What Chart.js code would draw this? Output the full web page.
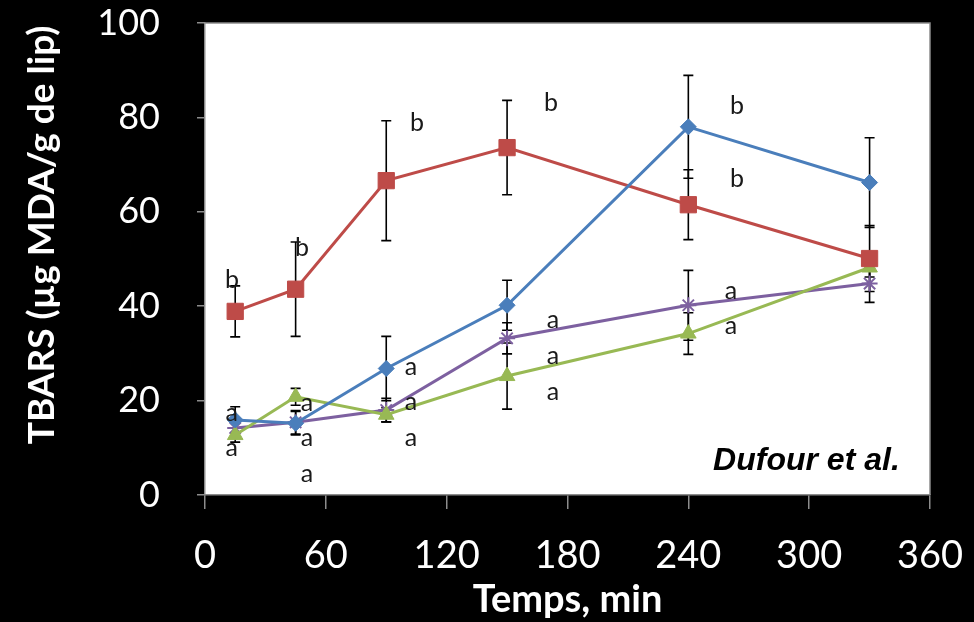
<!DOCTYPE html>
<html lang="fr">
<head>
  <meta charset="UTF-8" />
  <title>TBARS - Dufour et al.</title>
  <script src="https://cdn.jsdelivr.net/npm/chart.js"></script>
  <style>
    html, body { margin: 0; padding: 0; background: #000; }
    #wrap { width: 974px; height: 622px; }
  </style>
</head>
<body>
  <div id="wrap"><canvas id="tbarsChart" width="974" height="622"></canvas></div>

  <script>
    // Sampling times (min)
    const times = [15, 45, 90, 150, 240, 330];

    // TBARS means and error bars, one pair per series
    const blueVals = [15.9, 15.2, 26.8, 40.2, 78.0, 66.2];
    const blueErr = [2.8, 2.5, 6.8, 5.3, 10.9, 9.5];
    const redVals = [38.9, 43.6, 66.6, 73.6, 61.5, 50.1];
    const redErr = [5.4, 10.0, 12.7, 10.0, 7.4, 7.0];
    const greenVals = [12.7, 20.8, 17.0, 25.2, 34.2, 48.2];
    const greenErr = [1.5, 1.8, 1.5, 7.0, 4.4, 2.0];
    const purpleVals = [14.2, 15.4, 18.0, 33.2, 40.2, 44.8];
    const purpleErr = [2.0, 2.5, 2.5, 3.3, 7.4, 4.0];

    // Axis ticks
    const xTicks = [0, 60, 120, 180, 240, 300, 360];
    const yTicks = [0, 20, 40, 60, 80, 100];

    // Significance letters (data coordinates)
    const letterX = [13.4, 48.2, 105.3, 171.8, 264.2, 264.2, 261.2, 261.2, 172.8, 172.8, 172.8, 102.3, 102.3, 102.3, 50.6, 50.6, 50.6, 13.3, 13.3];
    const letterY = [45.5, 52.4, 78.9, 83.1, 82.5, 67.0, 43.3, 35.9, 37.0, 29.4, 21.8, 27.1, 19.7, 12.1, 19.5, 12.1, 4.4, 17.3, 9.9];
    const letterText = ["b", "b", "b", "b", "b", "b", "a", "a", "a", "a", "a", "a", "a", "a", "a", "a", "a", "a", "a"];

    function toPoints(vals) {
      return times.map((t, i) => ({ x: t, y: vals[i] }));
    }

    function makeSeries(label, vals, errs, color, style, radius) {
      return {
        label: label,
        data: toPoints(vals),
        errors: errs,
        showLine: true,
        borderColor: color,
        backgroundColor: color,
        borderWidth: 3,
        pointStyle: style,
        pointRadius: radius,
        pointBorderColor: color,
        pointBackgroundColor: color,
        pointBorderWidth: style === "star" ? 2 : 1
      };
    }

    // white plot area + grey frame
    const plotArea = {
      id: "plotArea",
      beforeDraw(chart) {
        const a = chart.chartArea;
        const ctx = chart.ctx;
        ctx.save();
        ctx.fillStyle = "#fff";
        ctx.fillRect(a.left, a.top, a.right - a.left, a.bottom - a.top);
        ctx.restore();
      },
      beforeDatasetsDraw(chart) {
        const a = chart.chartArea;
        const ctx = chart.ctx;
        ctx.save();
        ctx.strokeStyle = "#8c8c8c";
        ctx.lineWidth = 1.5;
        ctx.beginPath();
        ctx.moveTo(a.left, a.top);
        ctx.lineTo(a.right, a.top);
        ctx.lineTo(a.right, a.bottom);
        ctx.stroke();
        ctx.restore();
      }
    };

    // vertical error bars with caps
    const errorBars = {
      id: "errorBars",
      beforeDatasetsDraw(chart) {
        const ctx = chart.ctx;
        const xs = chart.scales.x, ys = chart.scales.y;
        ctx.save();
        ctx.strokeStyle = "#000";
        ctx.lineWidth = 1.6;
        chart.data.datasets.forEach(ds => {
          ds.data.forEach((p, i) => {
            const e = ds.errors[i];
            const px = xs.getPixelForValue(p.x);
            const top = ys.getPixelForValue(p.y + e);
            const bot = ys.getPixelForValue(p.y - e);
            ctx.beginPath();
            ctx.moveTo(px, top); ctx.lineTo(px, bot);
            ctx.moveTo(px - 5, top); ctx.lineTo(px + 5, top);
            ctx.moveTo(px - 5, bot); ctx.lineTo(px + 5, bot);
            ctx.stroke();
          });
        });
        ctx.restore();
      }
    };

    // letters, citation and rotated y title
    const annotations = {
      id: "annotations",
      afterDatasetsDraw(chart) {
        const ctx = chart.ctx;
        const xs = chart.scales.x, ys = chart.scales.y;
        ctx.save();
        ctx.fillStyle = "#1a1a1a";
        ctx.font = "25px Lato";
        ctx.textAlign = "center";
        ctx.textBaseline = "middle";
        letterText.forEach((t, i) => {
          ctx.fillText(t, xs.getPixelForValue(letterX[i]), ys.getPixelForValue(letterY[i]));
        });
        ctx.fillStyle = "#000";
        ctx.font = "italic bold 32px 'Liberation Sans'";
        ctx.textAlign = "right";
        ctx.fillText("Dufour et al.", xs.getPixelForValue(345), ys.getPixelForValue(7.1));
        ctx.restore();
      },
      afterDraw(chart) {
        const ctx = chart.ctx;
        ctx.save();
        ctx.translate(42, 235);
        ctx.rotate(-Math.PI / 2);
        ctx.fillStyle = "#fff";
        ctx.font = "bold 37px Lato";
        ctx.textAlign = "center";
        ctx.textBaseline = "middle";
        ctx.fillText("TBARS (µg MDA/g de lip)", 0, 0);
        ctx.restore();
      }
    };

    const ctx = document.getElementById("tbarsChart").getContext("2d");
    new Chart(ctx, {
      type: "scatter",
      data: {
        datasets: [
          makeSeries("Série bleue", blueVals, blueErr, "#4a7ebb", "rectRot", 8),
          makeSeries("Série rouge", redVals, redErr, "#be4b48", "rect", 11.5),
          makeSeries("Série verte", greenVals, greenErr, "#98b954", "triangle", 9),
          makeSeries("Série violette", purpleVals, purpleErr, "#7d60a0", "star", 8)
        ]
      },
      options: {
        responsive: false,
        animation: false,
        layout: { padding: { top: 23, right: 44, left: 0, bottom: 0 } },
        plugins: {
          legend: { display: false },
          tooltip: { enabled: false }
        },
        scales: {
          x: {
            type: "linear",
            min: 0,
            max: 360,
            afterFit: s => {
              s.height = 127;
              s.paddingLeft = 0;
              s.paddingRight = 0;
            },
            afterBuildTicks: s => { s.ticks = xTicks.map(v => ({ value: v })); },
            ticks: {
              color: "#fff",
              font: { family: "Lato", size: 38 },
              padding: 24,
              maxRotation: 0,
              autoSkip: false
            },
            grid: { drawOnChartArea: false, color: "#8c8c8c", tickLength: 14, lineWidth: 1.5 },
            border: { color: "#8c8c8c", width: 1.5 },
            title: {
              display: true,
              text: "Temps, min",
              color: "#fff",
              font: { family: "Lato", size: 38, weight: "bold", lineHeight: 1 },
              padding: 3
            }
          },
          y: {
            min: 0,
            max: 100,
            afterFit: s => {
              s.width = 205;
              s.paddingTop = 0;
              s.paddingBottom = 0;
            },
            afterBuildTicks: s => { s.ticks = yTicks.map(v => ({ value: v })); },
            ticks: {
              color: "#fff",
              font: { family: "Lato", size: 36 },
              padding: 37
            },
            grid: { drawOnChartArea: false, color: "#8c8c8c", tickLength: 8, lineWidth: 1.5 },
            border: { color: "#8c8c8c", width: 1.5 }
          }
        }
      },
      plugins: [plotArea, errorBars, annotations]
    });
  </script>
</body>
</html>
